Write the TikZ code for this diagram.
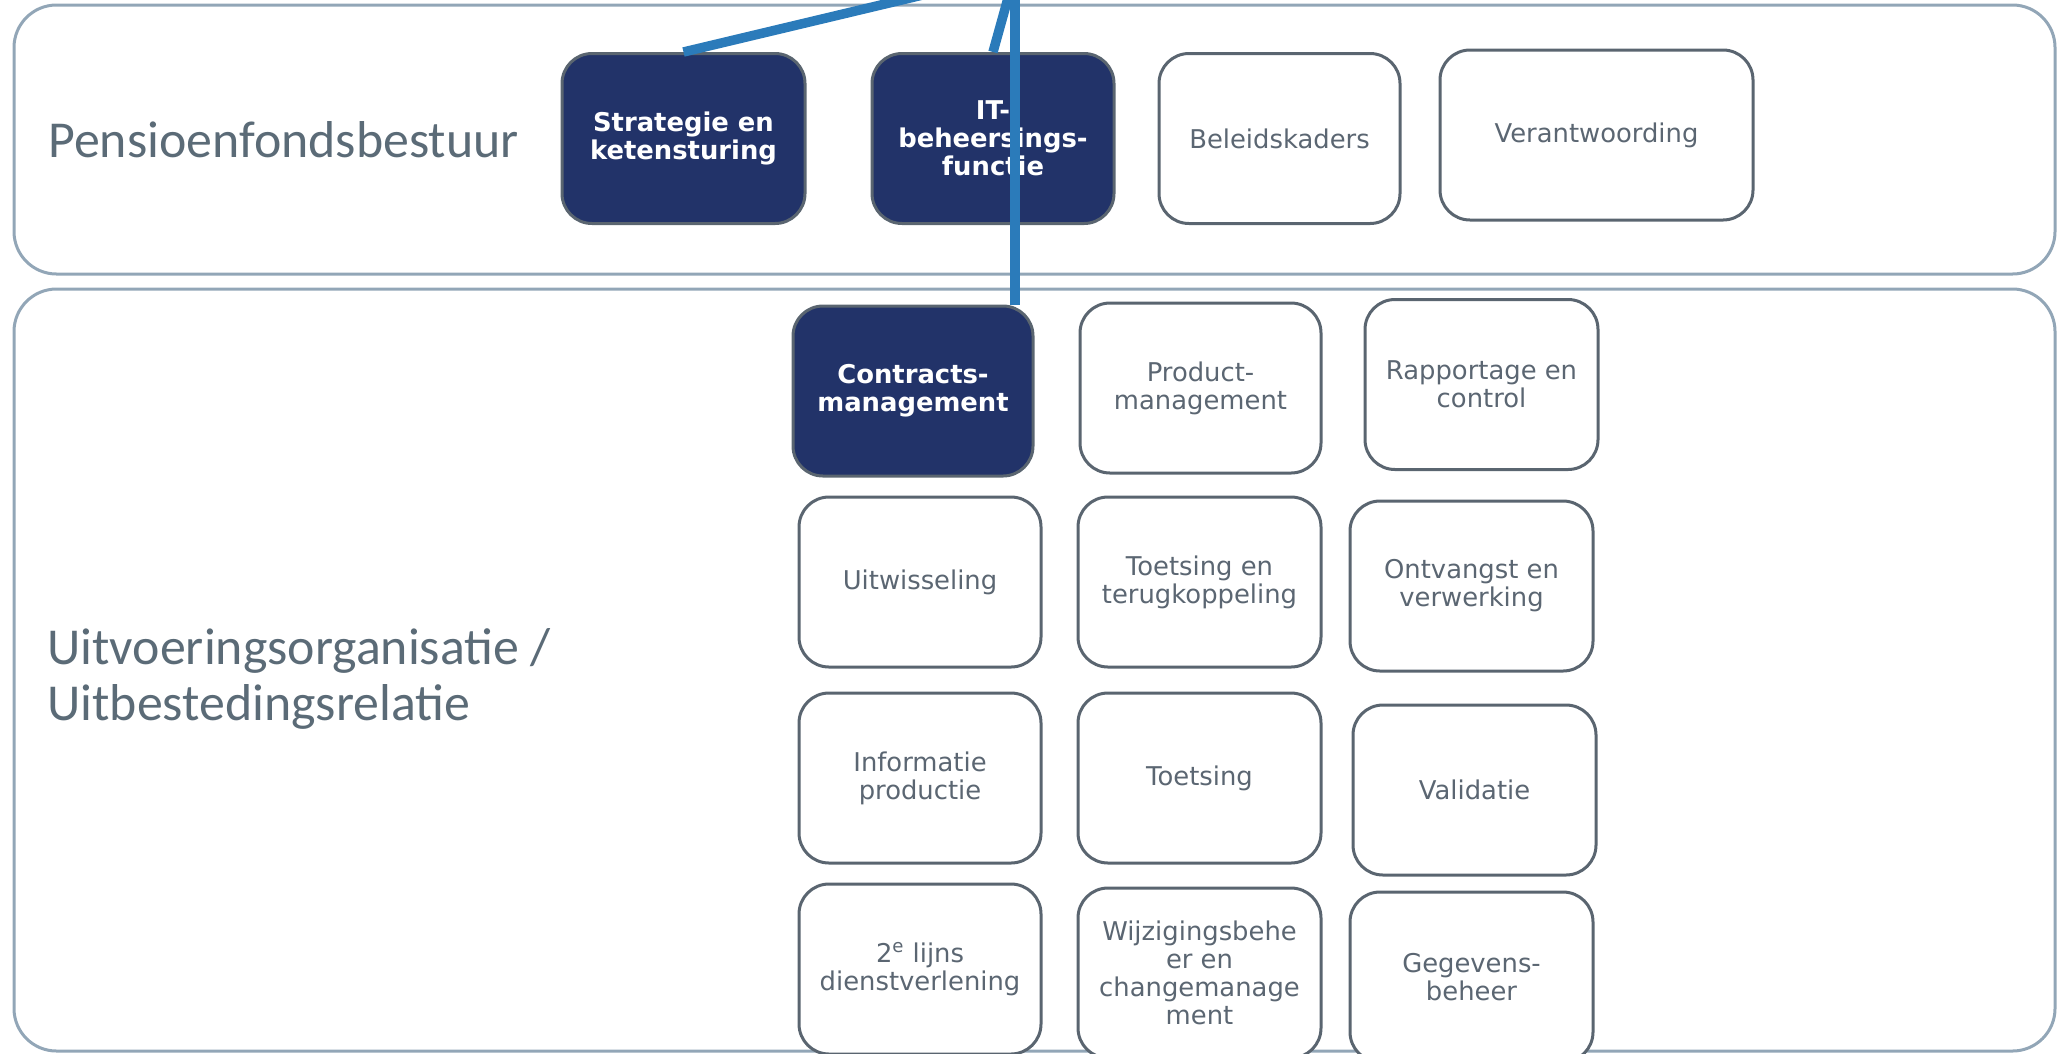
\documentclass[tikz,border=0pt]{standalone}
\usepackage{fontspec}
\setmainfont{DejaVu Sans}
\newfontfamily\panelfont{Carlito}
\usepackage{tikz}
\definecolor{navy}{HTML}{223369}
\definecolor{boxgrey}{HTML}{5A6570}
\definecolor{boxtext}{HTML}{5B6672}
\definecolor{labelgrey}{HTML}{5B6B77}
\definecolor{panelgrey}{HTML}{92A6B7}
\definecolor{linkblue}{HTML}{2B7BBA}

\begin{document}
\begin{tikzpicture}[
    panel/.style={draw=panelgrey, line width=0.06cm, rounded corners=0.85cm},
    panellabel/.style={anchor=west, inner sep=0pt, align=left, text=labelgrey,
        font=\panelfont\fontsize{29.5}{31.8}\selectfont},
    lightbox/.style={draw=boxgrey, fill=white, line width=0.06cm, rounded corners=0.6cm,
        minimum width=4.84cm, minimum height=3.4cm, align=center, text=boxtext,
        font=\fontsize{14.7}{15.9}\selectfont},
    darkbox/.style={lightbox, fill=navy, text=white,
        font=\bfseries\fontsize{14.7}{15.9}\selectfont},
    link/.style={draw=linkblue, line width=0.19cm}
]
    \useasboundingbox (0, 0) rectangle (41.14, -21.06);
    \clip (0, 0) rectangle (41.14, -21.06);

    % the two layers
    \draw [panel] (0.28, -0.10) rectangle (41.10, -5.48);
    \draw [panel] (0.28, -5.78) rectangle (41.10, -21.02);
    \node [panellabel] (bestuur) at (0.96, -2.80) {Pensioenfondsbestuur};
    \node [panellabel] (uitvoering) at (0.94, -13.57)
        {Uitvoeringsorganisatie /\\Uitbestedingsrelatie};

    % dark boxes
    \node [darkbox, minimum width=4.86cm] (strategie) at (13.67, -2.77) {Strategie en\\ketensturing};
    \node [darkbox] (itfunctie) at (19.86, -2.77) {IT-\\beheersings-\\functie};
    \node [darkbox, minimum width=4.80cm] (contracts) at (18.26, -7.82) {Contracts-\\management};

    % light boxes
    \foreach \x/\y/\w/\name/\txt in {
        25.59/-2.77/4.82/beleid/{Beleidskaders},
        31.93/-2.70/6.26/verantw/{Verantwoording},
        24.01/-7.76/4.82/product/{Product-\\management},
        29.63/-7.69/4.66/rapportage/{Rapportage en\\control},
        18.40/-11.64/4.84/uitwisseling/{Uitwisseling},
        23.99/-11.64/4.86/toetsterug/{Toetsing en\\terugkoppeling},
        29.43/-11.72/4.86/ontvangst/{Ontvangst en\\verwerking},
        18.40/-15.56/4.84/informatie/{Informatie\\productie},
        23.99/-15.56/4.86/toetsing/{Toetsing},
        29.49/-15.80/4.86/validatie/{Validatie},
        18.40/-19.38/4.84/tweedelijn/{2\textsuperscript{e} lijns\\dienstverlening},
        23.99/-19.46/4.86/wijziging/{Wijzigingsbehe\\er en\\changemanage\\ment},
        29.43/-19.54/4.86/gegevens/{Gegevens-\\beheer}} {
        \node [lightbox, minimum width=\w cm] (\name) at (\x, \y) {\txt};
    }

    % links to the common point above the picture
    \coordinate (hub) at (20.30, 0.54);
    \draw [link] (strategie.north) -- (hub);
    \draw [link] (itfunctie.north) -- (hub);
    \draw [link] (hub) -- (hub |- contracts.north);
\end{tikzpicture}
\end{document}
